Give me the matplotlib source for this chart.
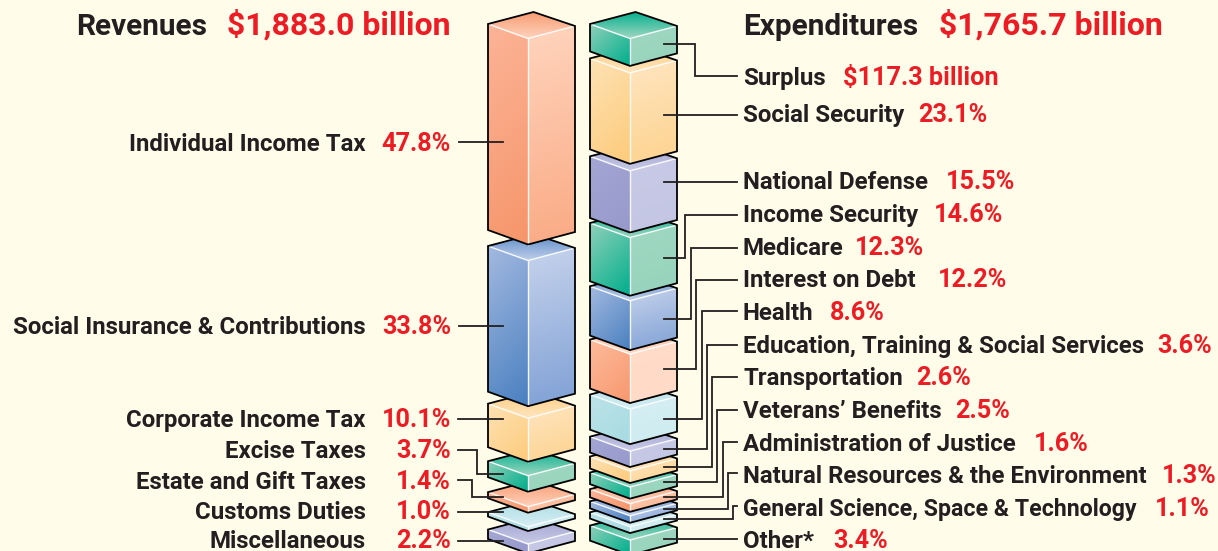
import numpy as np
import matplotlib
matplotlib.use('Agg')
import matplotlib.pyplot as plt
from matplotlib.colors import to_rgb
from matplotlib.patches import Polygon

# data
rev_names = ['Individual Income Tax', 'Social Insurance & Contributions', 'Corporate Income Tax',
             'Excise Taxes', 'Estate and Gift Taxes', 'Customs Duties', 'Miscellaneous']
rev_vals = [47.8, 33.8, 10.1, 3.7, 1.4, 1.0, 2.2]
rev_cols = ['orange', 'blue', 'yellow', 'green', 'orange', 'cyan', 'purple']

exp_names = ['Surplus', 'Social Security', 'National Defense', 'Income Security', 'Medicare',
             'Interest on Debt', 'Health', 'Education, Training & Social Services', 'Transportation',
             "Veterans\u2019 Benefits", 'Administration of Justice', 'Natural Resources & the Environment',
             'General Science, Space & Technology', 'Other*']
exp_vals = [6.6, 23.1, 15.5, 14.6, 12.3, 12.2, 8.6, 3.6, 2.6, 2.5, 1.6, 1.3, 1.1, 3.4]
exp_labels = ['$117.3 billion'] + ['%.1f%%' % v for v in exp_vals[1:]]
exp_cols = ['green', 'yellow', 'purple', 'green', 'blue', 'peach', 'cyan', 'purple', 'yellow', 'green',
            'orange', 'blue', 'cyan', 'green']

# layout
BG = '#FFFDEA'
RED = '#ED1C24'
DARK = '#231F20'
rev_gaps = [16, 12, 14, 15, 14, 13]
exp_gaps = [7, 7, 5, 5, 4, 6, 7, 4, 4, 5, 4, 4, 7]
rev_y = [151, 334, 427, 458, 489, 519, 547.5]
exp_y = [85, 122, 189, 222, 255, 287, 320, 353, 385, 418, 451, 483, 516, 547.5]
exp_pct_x = [843, 918, 946, 934, 855, 938, 830, 1157, 916, 955, 1034, 1162, 1155, 833]
exp_name_fs = [17.3] * 12 + [16.7, 17.3]
rev_leaders = [[(459, 142), (503, 142)], [(459, 326), (503, 326)], [(458, 419), (503, 419)],
               [(458, 450), (477, 450), (477, 474), (503, 474)], [(458, 480), (472, 480), (472, 497), (503, 497)],
               [(458, 512), (503, 512)], [(458, 541), (503, 541)]]
exp_leader_x = [695, None, None, 685, 690.5, 696, 702, 707, 712, 717, 723, 728, 733, None]
exp_leader_start = [44, 115, 182, 258, 319, 369, 419, 449, 467, 482, 497, 509, 519, 539]
exp_leader_end = [76, 115, 182, 215, 248, 280, 311, 345, 377, 410, 442, 473, 506, 539]

# left top/bottom, right top/bottom, top back/front
palette = {
    'orange': ['#FCB497', '#F6956A', '#FFD4BD', '#FAAA84', '#F79A70', '#FFD2BC'],
    'peach': ['#FDBB9C', '#F8986E', '#FFDCC9', '#FFDAC6', '#FDB594', '#FFDCC9'],
    'blue': ['#A3B9E0', '#4A80C0', '#C6D3EC', '#7FA0D5', '#5C8CC8', '#C0CFEA'],
    'yellow': ['#FEE2B4', '#FDCB7B', '#FFE5C0', '#FDD38F', '#FDCC80', '#FFE5BE'],
    'green': ['#8ED0B9', '#00AE8C', '#A0D8C2', '#96D3BC', '#00AE8C', '#9CD6C0'],
    'purple': ['#A4A7D3', '#9699CB', '#C8CAE6', '#C3C6E3', '#9EA1CF', '#C8CAE6'],
    'cyan': ['#BCE3E8', '#A8DBE2', '#D6EFF3', '#CDEBF0', '#ACDCE3', '#D6EFF3'],
}


def grad_face(ax, pts, c1, c2, vec, z):
    pts = np.array(pts, dtype=float)
    x0, x1 = pts[:, 0].min(), pts[:, 0].max()
    y0, y1 = pts[:, 1].min(), pts[:, 1].max()
    xx, yy = np.meshgrid(np.linspace(x0, x1, 40), np.linspace(y0, y1, 60))
    t = (xx - x0) * vec[0] + (yy - y0) * vec[1]
    t = (t - t.min()) / (t.max() - t.min())
    rgb = np.array(to_rgb(c1)) * (1 - t[..., None]) + np.array(to_rgb(c2)) * t[..., None]
    im = ax.imshow(rgb, extent=[x0, x1, y1, y0], origin='upper', aspect='auto', zorder=z, interpolation='bilinear')
    poly = Polygon(pts, transform=ax.transData, fc='none', ec='none')
    ax.add_patch(poly)
    im.set_clip_path(poly)


def block(ax, lx, top, h, colour, z):
    c = palette[colour]
    fx, rx, bx = lx + 40, lx + 87, lx + 45.5
    left_t, front_t, right_t, back_t = (lx, top), (fx, top + 14.5), (rx, top + 2), (bx, top - 12)
    left_b, front_b, right_b = (lx, top + h), (fx, top + h + 14.5), (rx, top + h + 2)
    grad_face(ax, [left_t, front_t, front_b, left_b], c[0], c[1], (1, 1), z)
    grad_face(ax, [front_t, right_t, right_b, front_b], c[2], c[3], (0.3, 1), z)
    grad_face(ax, [back_t, right_t, front_t, left_t], c[4], c[5], (0, 1), z)
    ax.plot(*zip(left_t, front_t, right_t), color='white', lw=1, zorder=z + 0.1, alpha=0.9)
    ax.plot(*zip(front_t, front_b), color='white', lw=1, zorder=z + 0.1, alpha=0.9)
    outline = [back_t, right_t, right_b, front_b, left_b, left_t]
    ax.add_patch(Polygon(outline, closed=True, fc='none', ec='black', lw=1.3, zorder=z + 0.2, joinstyle='miter'))


def stack(ax, lx, vals, cols, gaps, scale, extra):
    top = 24
    n = len(vals)
    tops, hs = [], []
    for i in range(n):
        h = vals[i] * scale + extra
        tops.append(top)
        hs.append(h)
        if i < n - 1:
            top += h + gaps[i]
    for i in range(n - 1, -1, -1):
        block(ax, lx, tops[i], hs[i], cols[i], 10 + (n - i))


plt.rcParams['font.family'] = ['Roboto', 'DejaVu Sans']
fig = plt.figure(figsize=(12.18, 5.51), dpi=100, facecolor=BG)
ax = fig.add_axes([0, 0, 1, 1])
ax.set_facecolor(BG)

stack(ax, 488, rev_vals, rev_cols, rev_gaps, 4.31, 0)
stack(ax, 590, exp_vals, exp_cols, exp_gaps, 3.85, 2)

for seg in rev_leaders:
    ax.plot(*zip(*seg), color=DARK, lw=1.3, zorder=50, solid_joinstyle='miter')
for i in range(len(exp_y)):
    s, e, x = exp_leader_start[i], exp_leader_end[i], exp_leader_x[i]
    if x is None:
        ax.plot([664, 737], [s, s], color=DARK, lw=1.3, zorder=50)
    else:
        ax.plot([664, x, x, 737], [s, s, e, e], color=DARK, lw=1.3, zorder=50, solid_joinstyle='miter')

fs = 17.3
fp = 18.2
for name, v, y in zip(rev_names, rev_vals, rev_y):
    ax.text(366, y, name, ha='right', va='baseline', fontsize=fs, fontweight='bold', color=DARK)
    ax.text(451, y, '%.1f%%' % v, ha='right', va='baseline', fontsize=fp, fontweight='bold', color=RED)
for name, lab, y, px, nf in zip(exp_names, exp_labels, exp_y, exp_pct_x, exp_name_fs):
    ax.text(743, y, name, ha='left', va='baseline', fontsize=nf, fontweight='bold', color=DARK)
    ax.text(px, y, lab, ha='left', va='baseline', fontsize=fp, fontweight='bold', color=RED)

ft = 21.4
ax.text(207, 35, 'Revenues', ha='right', va='baseline', fontsize=ft, fontweight='bold', color=DARK)
ax.text(451, 35, '$1,883.0 billion', ha='right', va='baseline', fontsize=23, fontweight='bold', color=RED)
ax.text(743, 35, 'Expenditures', ha='left', va='baseline', fontsize=ft, fontweight='bold', color=DARK)
ax.text(939, 35, '$1,765.7 billion', ha='left', va='baseline', fontsize=23, fontweight='bold', color=RED)

ax.set_xlim(0, 1218)
ax.set_ylim(551, 0)
ax.axis('off')
fig.savefig('out.png', dpi=100, facecolor=BG)
